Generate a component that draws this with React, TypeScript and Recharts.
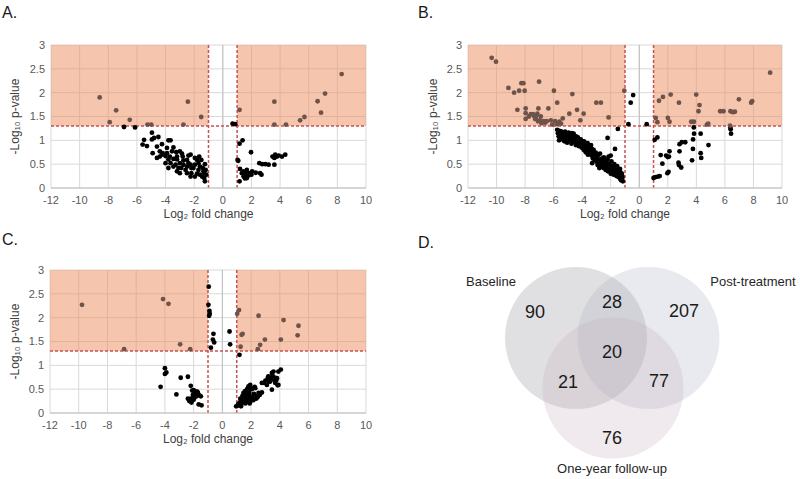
import React from 'react'
import { ScatterChart, Scatter, XAxis, YAxis, CartesianGrid, ReferenceArea, ReferenceLine } from 'recharts'

const xTicks = [-12, -10, -8, -6, -4, -2, 0, 2, 4, 6, 8, 10]
const yTicks = [0, 0.5, 1, 1.5, 2, 2.5, 3]
const fcCut = 1
const pCut = 1.3

// panel A: baseline
const aPoints: number[][] = [
  [-8.6, 1.9], [-7.9, 1.38], [-7.45, 1.63], [-6.5, 1.43], [-5.26, 1.33], [-5.0, 1.33], [-2.75, 1.33], [-2.44, 1.81], [-1.51, 1.49],
  [1.17, 1.64], [3.6, 1.81], [3.6, 1.33], [4.41, 1.33], [5.4, 1.42], [5.7, 1.49], [6.62, 1.82], [6.86, 1.58], [7.14, 1.98], [8.3, 2.39],
  [-6.9, 1.28], [-6.13, 1.27], [0.68, 1.35], [0.87, 1.34],
  [-5.5, 1.01], [-5.6, 0.91], [-5.3, 0.88], [-4.95, 1.16], [-4.95, 1.02], [-4.8, 1.05], [-4.5, 1.07], [-4.9, 0.73], [-4.6, 0.87], [-4.25, 0.92],
  [-4.4, 0.77], [-4.2, 0.73], [-3.8, 1.0], [-3.65, 1.0], [-3.9, 0.84], [-3.45, 0.85], [-3.25, 0.75], [-3.0, 0.77], [-2.85, 0.72], [-3.7, 0.66],
  [-3.45, 0.61], [-3.2, 0.6], [-3.0, 0.52], [-2.75, 0.58], [-2.4, 0.68], [-2.25, 0.7], [-1.95, 0.63], [-1.8, 0.59], [-1.7, 0.52], [-1.6, 0.45],
  [-1.25, 0.5], [-3.8, 0.6], [-4.0, 0.67], [-4.25, 0.7], [-3.65, 0.52], [-3.3, 0.49], [-3.1, 0.42], [-2.75, 0.49], [-2.5, 0.45], [-2.6, 0.38],
  [-3.0, 0.31], [-2.5, 0.31], [-2.2, 0.31], [-1.8, 0.3], [-1.6, 0.28], [-1.45, 0.24], [-1.3, 0.21], [-1.25, 0.14], [-1.95, 0.24], [-2.25, 0.24],
  [-1.7, 0.38], [-1.35, 0.35], [-2.05, 0.42], [-2.4, 0.52], [-3.45, 0.45], [-3.8, 0.42], [-4.0, 0.52], [-4.4, 0.66], [-4.6, 0.63], [-3.55, 0.77],
  [-3.2, 0.66], [-3.9, 0.73], [-2.8, 0.66], [-2.5, 0.59], [-2.25, 0.49], [-1.95, 0.49], [-1.65, 0.66], [-1.5, 0.59], [-1.3, 0.31], [-2.2, 0.42],
  [-2.9, 0.42], [-3.2, 0.35], [-1.4, 0.42], [-1.15, 0.28], [-1.2, 0.38],
  [1.17, 0.93], [1.38, 1.0], [1.03, 0.59], [1.08, 0.57], [1.17, 0.14], [1.2, 0.4], [1.33, 0.31], [1.45, 0.24], [1.57, 0.28], [1.68, 0.31],
  [1.8, 0.26], [1.9, 0.31], [2.0, 0.28], [1.68, 0.21], [1.45, 0.35], [2.05, 0.35], [1.97, 0.75], [2.6, 0.31], [2.7, 0.28], [2.55, 0.52],
  [2.75, 0.5], [2.97, 0.5], [3.2, 0.49], [3.6, 0.49], [3.47, 0.66], [3.66, 0.7], [3.78, 0.66], [3.9, 0.68], [3.6, 0.63], [4.36, 0.7],
  [4.13, 0.66], [1.68, 0.38], [2.3, 0.32], [1.55, 0.2],
]

// panel B: post-treatment
const bPoints: number[][] = [
  [-10.34, 2.73], [-10.04, 2.65], [-9.17, 2.1], [-8.77, 2.0], [-8.42, 2.04], [-8.26, 2.2], [-8.12, 2.2], [-8.03, 2.04], [-8.54, 1.64],
  [-7.96, 1.67], [-7.02, 2.23], [-7.96, 1.57], [-7.73, 1.5], [-7.6, 1.55], [-7.37, 1.51], [-7.26, 1.46], [-7.14, 1.56], [-6.97, 1.42],
  [-6.8, 1.38], [-7.07, 1.67], [-6.37, 1.67], [-5.98, 2.04], [-5.75, 1.79], [-6.2, 1.42], [-5.9, 1.4], [-5.6, 1.39], [-5.36, 1.46],
  [-4.9, 1.56], [-4.69, 1.97], [-4.36, 1.64], [-4.13, 1.42], [-3.9, 1.56], [-3.01, 1.79], [-2.69, 1.79], [-2.15, 1.48], [-6.6, 1.37],
  [-5.75, 1.34], [-6.09, 1.33], [-7.45, 1.55], [-7.3, 1.45], [-7.2, 1.52], [-7.1, 1.4], [-6.9, 1.5], [-6.85, 1.36], [-6.7, 1.4], [-7.96, 1.45],
  [-6.49, 1.4], [-5.48, 1.35], [-1.05, 2.04],
  [-0.6, 1.79], [-0.43, 1.95], [-0.76, 1.34], [0.52, 1.34],
  [1.15, 1.47], [1.27, 1.38], [1.38, 1.83], [1.66, 1.91], [2.2, 1.96], [2.0, 1.47], [2.12, 1.39], [2.78, 1.79], [3.64, 1.39], [3.83, 1.39],
  [3.99, 1.96], [4.22, 1.74], [4.15, 1.61], [4.74, 1.33], [4.83, 1.35], [5.67, 1.61], [5.9, 1.61], [6.39, 1.61], [6.56, 1.59], [6.7, 1.6],
  [6.98, 1.86], [7.84, 1.79], [7.91, 1.82], [9.17, 2.42], [6.36, 1.31],
  [3.82, 1.27], [3.84, 1.14], [4.3, 1.14], [6.4, 1.23], [6.43, 1.14], [6.38, 1.27], [1.08, 1.01], [1.27, 1.06], [1.5, 0.69], [1.88, 0.68],
  [2.0, 0.65], [2.12, 0.77], [1.62, 0.51], [2.82, 0.92], [2.98, 0.96], [3.22, 0.96], [2.82, 0.77], [3.76, 0.82], [4.3, 0.73], [4.34, 0.63],
  [4.85, 0.9], [3.7, 0.58], [2.75, 0.53], [2.78, 0.48], [2.94, 0.43], [2.05, 0.34], [1.97, 0.31], [1.0, 0.21], [1.15, 0.23], [1.31, 0.24],
  [1.43, 0.25], [3.77, 1.02], [2.08, 0.66],
  [-5.75, 1.22], [-5.7, 1.15], [-5.65, 1.08], [-5.6, 1.2], [-5.55, 1.12], [-5.5, 1.02], [-5.45, 1.17], [-5.4, 1.1], [-5.35, 1.05], [-5.3, 1.14],
  [-5.25, 0.98], [-5.2, 1.08], [-5.15, 1.12], [-5.1, 1.03], [-5.05, 0.95], [-5.0, 1.1], [-4.95, 1.16], [-4.9, 1.05], [-4.85, 1.0], [-4.8, 1.12],
  [-4.75, 0.93], [-4.7, 1.08], [-4.65, 1.02], [-4.6, 1.14], [-4.55, 0.97], [-4.5, 1.05], [-4.45, 0.9], [-4.4, 1.0], [-4.35, 0.95], [-4.3, 1.06],
  [-4.25, 0.88], [-4.2, 0.98], [-4.15, 0.92], [-4.1, 1.02], [-4.05, 0.85], [-4.0, 0.95], [-3.95, 0.9], [-3.9, 0.8], [-3.85, 0.97], [-3.8, 0.86],
  [-3.75, 0.75], [-3.7, 0.92], [-3.65, 0.82], [-3.6, 0.7], [-3.55, 0.88], [-3.5, 0.78], [-3.45, 0.72], [-3.4, 0.84], [-3.35, 0.68], [-3.3, 0.76],
  [-3.25, 0.62], [-3.2, 0.8], [-3.15, 0.7], [-3.1, 0.58], [-3.05, 0.74], [-3.0, 0.64], [-2.95, 0.54], [-2.9, 0.68], [-2.85, 0.6], [-2.8, 0.5],
  [-2.75, 0.72], [-2.7, 0.57], [-2.65, 0.46], [-2.6, 0.62], [-2.55, 0.52], [-2.5, 0.42], [-2.45, 0.58], [-2.4, 0.48], [-2.35, 0.38], [-2.3, 0.55],
  [-2.25, 0.44], [-2.2, 0.35], [-2.15, 0.66], [-2.1, 0.5], [-2.05, 0.4], [-2.0, 0.3], [-1.95, 0.56], [-1.9, 0.46], [-1.85, 0.36], [-1.8, 0.28],
  [-1.75, 0.5], [-1.7, 0.42], [-1.65, 0.33], [-1.6, 0.25], [-1.55, 0.46], [-1.5, 0.38], [-1.45, 0.3], [-1.4, 0.22], [-1.35, 0.4], [-1.3, 0.32],
  [-1.25, 0.26], [-1.2, 0.2], [-1.15, 0.14], [-5.62, 1.0], [-5.48, 1.19], [-5.2, 1.18], [-4.98, 1.02], [-4.72, 1.15], [-4.42, 1.08], [-4.12, 0.95],
  [-3.92, 0.98], [-3.62, 0.94], [-3.38, 0.9], [-3.32, 0.82], [-3.22, 0.72], [-2.92, 0.48], [-2.72, 0.44], [-2.48, 0.64], [-2.28, 0.5], [-2.22, 0.6],
  [-1.98, 0.42], [-1.92, 0.36], [-1.72, 0.3], [-1.68, 0.46], [-1.52, 0.32], [-1.48, 0.24], [-1.42, 0.36], [-1.38, 0.28], [-1.32, 0.2], [-1.28, 0.16],
  [-1.22, 0.3], [-1.18, 0.24], [-2.22, 1.05], [-1.5, 1.24], [-1.7, 0.82], [-3.3, 0.52], [-2.8, 0.42], [-2.0, 0.68],
]

// panel C: one-year follow-up
const cPoints: number[][] = [
  [-9.77, 2.27], [-6.84, 1.34], [-4.13, 2.39], [-3.75, 2.29], [-2.94, 1.44], [-2.24, 1.34],
  [1.03, 2.08], [1.16, 2.16], [2.52, 2.04], [4.26, 1.95], [5.3, 1.83], [5.24, 1.63], [4.07, 1.54], [2.96, 1.54], [2.63, 1.43], [2.47, 1.34],
  [1.34, 1.64], [1.41, 1.66], [1.27, 1.39],
  [-0.95, 2.65], [-0.97, 2.27], [-0.9, 2.14], [-0.88, 2.08], [-0.92, 2.04], [-0.62, 1.66], [-0.66, 1.54], [-0.57, 1.48], [-0.8, 1.37],
  [0.5, 1.71], [0.54, 1.44], [1.19, 1.22],
  [-4.0, 0.94], [-4.0, 0.82], [-3.9, 0.85], [-4.3, 0.55], [-3.2, 0.39], [-2.9, 0.74], [-2.4, 0.76], [-2.2, 0.57], [-2.1, 0.47], [-2.2, 0.3],
  [-2.3, 0.25], [-2.15, 0.22], [-2.0, 0.48], [-1.9, 0.42], [-1.85, 0.45], [-1.7, 0.42], [-1.8, 0.35], [-1.6, 0.37], [-1.5, 0.35], [-1.65, 0.18],
  [-1.45, 0.16], [-2.4, 0.3], [-2.0, 0.28], [-1.75, 0.45], [-2.05, 0.38], [-1.95, 0.32],
  [0.96, 0.14], [1.05, 0.15], [1.1, 0.18], [1.15, 0.2], [1.2, 0.17], [1.24, 0.22], [1.3, 0.25], [1.35, 0.2], [1.4, 0.28], [1.45, 0.23],
  [1.47, 0.42], [1.5, 0.32], [1.55, 0.26], [1.6, 0.4], [1.62, 0.3], [1.66, 0.38], [1.7, 0.24], [1.75, 0.33], [1.8, 0.45], [1.82, 0.56],
  [1.85, 0.28], [1.9, 0.36], [1.94, 0.59], [1.95, 0.24], [2.0, 0.3], [2.05, 0.5], [2.1, 0.33], [2.15, 0.27], [2.2, 0.4], [2.25, 0.55],
  [2.29, 0.52], [2.35, 0.3], [2.4, 0.36], [2.45, 0.33], [2.52, 0.42], [2.6, 0.38], [2.75, 0.43], [2.75, 0.63], [2.9, 0.63], [3.0, 0.68],
  [3.1, 0.59], [3.15, 0.72], [3.2, 0.77], [3.25, 0.66], [3.3, 0.7], [3.33, 0.66], [3.4, 0.74], [3.45, 0.84], [3.45, 0.49], [3.5, 0.78],
  [3.56, 0.87], [3.6, 0.7], [3.65, 0.74], [3.68, 0.63], [3.75, 0.68], [3.8, 0.73], [3.85, 0.58], [3.9, 0.59], [3.9, 0.87], [4.07, 0.91],
  [1.25, 0.3], [1.4, 0.36], [1.58, 0.46], [1.72, 0.5], [1.88, 0.42], [2.0, 0.52], [1.3, 0.14], [1.6, 0.2], [1.9, 0.2],
]

// venn
const vennSets = ['Baseline', 'Post-treatment', 'One-year follow-up']
const vennCounts = [90, 28, 207, 20, 21, 77, 76]

const vennCircles = [
  { x: 576, y: 338, r: 71, fill: 'rgb(135,135,142)' },
  { x: 648.5, y: 338, r: 71, fill: 'rgb(171,175,193)' },
  { x: 613, y: 388, r: 70.5, fill: 'rgb(197,171,184)' },
]
const vennCountPos = [[535, 312], [612, 302], [684, 311], [612, 352], [568, 382], [659, 381], [612, 438]]
const vennLabelPos = [[491, 281], [753, 281], [612, 468]]

const font = '"Liberation Sans", Arial, sans-serif'
const tickStyle = { fontSize: 11, fill: '#595959', fontFamily: font }
const red = '#c9514f'

const isSig = (p: number[]) => Math.abs(p[0]) > fcCut && p[1] > pCut

function Volcano({ points, left, top, margin, labelOffset }: { points: number[][]; left: number; top: number; margin: any; labelOffset: number }) {
  const sig = points.filter(isSig).map(([x, y]) => ({ x, y }))
  const rest = points.filter(p => !isSig(p)).map(([x, y]) => ({ x, y }))
  const dot = (color: string) => (props: any) => <circle cx={props.cx} cy={props.cy} r={2.4} fill={color} />
  return (
    <div style={{ position: 'absolute', left, top }}>
      <ScatterChart width={400} height={225} margin={margin}>
        <CartesianGrid stroke="#d9d9d9" />
        <XAxis type="number" dataKey="x" domain={[-12, 10]} ticks={xTicks} interval={0} tickLine={false} axisLine={{ stroke: '#bfbfbf' }} tick={tickStyle} height={20}
          label={{ value: 'Log₂ fold change', position: 'bottom', offset: 1, style: { fontSize: 12, fill: '#404040', fontFamily: font } }} />
        <YAxis type="number" dataKey="y" domain={[0, 3]} ticks={yTicks} interval={0} tickLine={false} axisLine={false} tick={tickStyle} tickMargin={0} width={30}
          label={{ value: '-Log₁₀ p-value', angle: -90, position: 'insideLeft', offset: labelOffset, style: { fontSize: 12, fill: '#404040', fontFamily: font, textAnchor: 'middle' } }} />
        <ReferenceArea x1={-12} x2={-fcCut} y1={pCut} y2={3} fill="#ed8c5e" fillOpacity={0.5} stroke="none" />
        <ReferenceArea x1={fcCut} x2={10} y1={pCut} y2={3} fill="#ed8c5e" fillOpacity={0.5} stroke="none" />
        <ReferenceLine x={0} stroke="#bfbfbf" />
        <Scatter data={rest} fill="#000" shape={dot('#000')} isAnimationActive={false} />
        <Scatter data={sig} fill="#6e534a" shape={dot('#6e534a')} isAnimationActive={false} />
        <ReferenceLine x={-fcCut} stroke={red} strokeDasharray="3 2" strokeWidth={1.5} />
        <ReferenceLine x={fcCut} stroke={red} strokeDasharray="3 2" strokeWidth={1.5} />
        <ReferenceLine y={pCut} stroke={red} strokeDasharray="3 2" strokeWidth={1.5} />
      </ScatterChart>
    </div>
  )
}

function Venn() {
  const circles = vennCircles
  const counts = vennCounts.map((v, i) => ({ x: vennCountPos[i][0], y: vennCountPos[i][1], v }))
  const labels = vennSets.map((s, i) => ({ x: vennLabelPos[i][0], y: vennLabelPos[i][1], s }))
  return (
    <div style={{ position: 'absolute', left: 400, top: 225 }}>
      <ScatterChart width={400} height={254} margin={{ top: 0, right: 0, bottom: 0, left: 0 }}>
        <XAxis type="number" dataKey="x" domain={[400, 800]} hide />
        <YAxis type="number" dataKey="y" domain={[225, 479]} reversed hide />
        <Scatter data={circles} isAnimationActive={false}
          shape={(p: any) => <circle cx={p.cx} cy={p.cy} r={p.payload.r} fill={p.payload.fill} fillOpacity={0.26} />} />
        <Scatter data={counts} isAnimationActive={false}
          shape={(p: any) => <text x={p.cx} y={p.cy} textAnchor="middle" dominantBaseline="central" fontSize={18} fill="#1a1a1a" fontFamily={font}>{p.payload.v}</text>} />
        <Scatter data={labels} isAnimationActive={false}
          shape={(p: any) => <text x={p.cx} y={p.cy} textAnchor="middle" dominantBaseline="central" fontSize={13} fill="#262626" fontFamily={font}>{p.payload.s}</text>} />
      </ScatterChart>
    </div>
  )
}

const title = (t: string, left: number, top: number) => (
  <div style={{ position: 'absolute', left, top, fontSize: 16, fontFamily: font, color: '#1a1a1a', lineHeight: '16px' }}>{t}</div>
)

export default function App() {
  return (
    <div style={{ position: 'absolute', left: 0, top: 0, width: 800, height: 479, background: '#fff' }}>
      <Volcano points={aPoints} left={0} top={0} margin={{ top: 45, right: 34, bottom: 17, left: 21 }} labelOffset={-6} />
      <Volcano points={bPoints} left={400} top={0} margin={{ top: 45, right: 18, bottom: 17, left: 38 }} labelOffset={-5} />
      <Volcano points={cPoints} left={0} top={225} margin={{ top: 45, right: 34, bottom: 17, left: 20 }} labelOffset={-5} />
      <Venn />
      {title('A.', 2, 5)}
      {title('B.', 418, 5)}
      {title('C.', 2, 232)}
      {title('D.', 418, 235)}
    </div>
  )
}
